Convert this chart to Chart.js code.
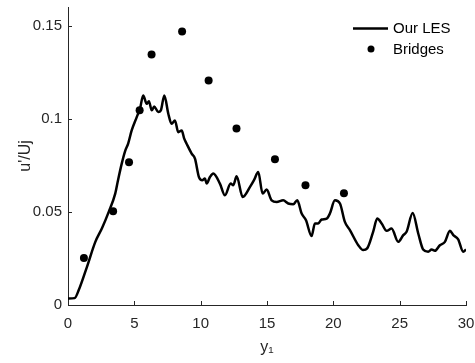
<!DOCTYPE html>
<html>
<head>
<meta charset="utf-8">
<script src="https://cdn.jsdelivr.net/npm/chart.js@4.4.0/dist/chart.umd.min.js"></script>
<style>
html, body { margin: 0; padding: 0; background: #fff; }
</style>
</head>
<body>
<canvas id="chart" width="475" height="363"></canvas>
<script>
// LES profile
const lesX = [0, 0.5, 0.81, 1.43, 2.06, 2.56, 3.07, 3.56, 3.77, 4.05, 4.3, 4.54, 4.8, 5.18, 5.43, 5.67,
  5.93, 6.1, 6.31, 6.5, 6.8, 7.0, 7.26, 7.56, 7.81, 8.06, 8.31, 8.57, 8.76, 8.94, 9.32, 9.57, 9.87,
  10.12, 10.32, 10.45, 10.7, 10.95, 11.45, 11.83, 12.26, 12.46, 12.71, 13.17, 13.72, 14.02, 14.34,
  14.67, 14.97, 15.35, 15.73, 16.22, 16.6, 16.98, 17.28, 17.61, 17.94, 18.36, 18.61, 18.86, 19.12,
  19.5, 19.74, 20.12, 20.5, 20.87, 21.25, 21.88, 22.25, 22.55, 23.0, 23.31, 23.64, 24.02, 24.39,
  24.89, 25.27, 25.52, 25.98, 26.4, 26.77, 27.15, 27.41, 27.66, 28.03, 28.41, 28.79, 29.04, 29.41,
  29.79, 30.0];
const lesY = [0.0035, 0.0037, 0.008, 0.0205, 0.0339, 0.0412, 0.05, 0.0598, 0.067, 0.0759, 0.0825,
  0.0868, 0.0937, 0.1009, 0.1055, 0.1125, 0.108, 0.1094, 0.1045, 0.1066, 0.1036, 0.1045, 0.1125,
  0.1027, 0.0973, 0.0991, 0.0928, 0.0937, 0.0893, 0.0866, 0.0813, 0.0786, 0.0687, 0.067, 0.0679,
  0.0652, 0.0687, 0.0706, 0.0652, 0.0589, 0.0652, 0.0643, 0.0691, 0.058, 0.0634, 0.067, 0.0714,
  0.0598, 0.062, 0.0562, 0.0553, 0.0562, 0.0545, 0.0541, 0.0562, 0.0491, 0.0455, 0.037, 0.0438,
  0.0438, 0.0459, 0.0464, 0.0491, 0.0562, 0.0545, 0.0446, 0.0402, 0.0321, 0.0295, 0.0304, 0.0393,
  0.0464, 0.0438, 0.0398, 0.0411, 0.0339, 0.0375, 0.0393, 0.0494, 0.0384, 0.0298, 0.0286, 0.0298,
  0.0291, 0.0321, 0.0339, 0.0398, 0.0375, 0.0352, 0.0286, 0.0298];

// Bridges measurements
const bridgesX = [1.2, 3.4, 4.6, 5.4, 6.3, 8.6, 10.6, 12.7, 15.6, 17.9, 20.8];
const bridgesY = [0.0252, 0.0504, 0.0766, 0.1045, 0.1345, 0.1468, 0.1205, 0.0948, 0.0782, 0.0643, 0.06];

const xTicks = [0, 5, 10, 15, 20, 25, 30];
const yTicks = [0, 0.05, 0.1, 0.15];

const axisColor = '#262626';
const fontFamily = '"Liberation Sans", Arial, sans-serif';

// MATLAB style ticks pointing into the plot
const innerTicks = {
    id: 'innerTicks',
    afterDatasetsDraw(chart) {
        const ctx = chart.ctx;
        const xs = chart.scales.x, ys = chart.scales.y;
        const area = chart.chartArea;
        ctx.save();
        ctx.strokeStyle = axisColor;
        ctx.lineWidth = 1;
        ctx.beginPath();
        xTicks.forEach(v => {
            const px = Math.round(xs.getPixelForValue(v)) + 0.5;
            ctx.moveTo(px, area.bottom);
            ctx.lineTo(px, area.bottom - 4);
        });
        yTicks.forEach(v => {
            const py = Math.round(ys.getPixelForValue(v)) + 0.5;
            ctx.moveTo(area.left, py);
            ctx.lineTo(area.left + 4, py);
        });
        ctx.stroke();
        ctx.restore();
    }
};

// legend box in the top right corner of the axes
const cornerLegend = {
    id: 'cornerLegend',
    afterDraw(chart) {
        const ctx = chart.ctx;
        const ds = chart.data.datasets;
        ctx.save();
        ctx.font = '15px ' + fontFamily;
        ctx.fillStyle = '#000';
        ctx.textBaseline = 'middle';
        ctx.textAlign = 'left';
        // line entry
        ctx.strokeStyle = '#000';
        ctx.lineWidth = 2.5;
        ctx.beginPath();
        ctx.moveTo(353, 28.5);
        ctx.lineTo(388, 28.5);
        ctx.stroke();
        ctx.fillText(ds[0].label, 393, 29);
        // marker entry
        ctx.beginPath();
        ctx.arc(371, 49, 3.5, 0, Math.PI * 2);
        ctx.fill();
        ctx.fillText(ds[1].label, 393, 50);
        ctx.restore();
    }
};

const ctx = document.getElementById('chart').getContext('2d');
const chart = new Chart(ctx, {
    type: 'scatter',
    data: {
        datasets: [{
            label: 'Our LES',
            data: lesX.map((x, i) => ({ x: x, y: lesY[i] })),
            showLine: true,
            borderColor: '#000',
            borderWidth: 2.5,
            pointRadius: 0,
            cubicInterpolationMode: 'monotone'
        }, {
            label: 'Bridges',
            data: bridgesX.map((x, i) => ({ x: x, y: bridgesY[i] })),
            showLine: false,
            backgroundColor: '#000',
            borderColor: '#000',
            pointRadius: 4,
            pointBorderWidth: 0
        }]
    },
    options: {
        responsive: false,
        animation: false,
        devicePixelRatio: 1,
        layout: { padding: { top: 7, right: 9, left: 0, bottom: 0 } },
        plugins: {
            legend: { display: false },
            tooltip: { enabled: false }
        },
        scales: {
            x: {
                type: 'linear',
                min: 0,
                max: 30,
                afterBuildTicks: s => { s.ticks = xTicks.map(v => ({ value: v })); },
                afterFit: s => { s.height = 58; s.paddingRight = 0; s.paddingLeft = 0; },
                grid: { display: false, drawTicks: false },
                border: { display: true, color: axisColor, width: 1 },
                ticks: {
                    color: axisColor,
                    padding: 10,
                    maxRotation: 0,
                    font: { family: fontFamily, size: 15 }
                },
                title: {
                    display: true,
                    text: 'y\u2081',
                    color: axisColor,
                    padding: { top: 0, bottom: 6 },
                    font: { family: fontFamily, size: 16 }
                }
            },
            y: {
                type: 'linear',
                min: 0,
                max: 0.16,
                afterBuildTicks: s => { s.ticks = yTicks.map(v => ({ value: v })); },
                afterFit: s => { s.width = 68; s.paddingTop = 0; s.paddingBottom = 0; },
                grid: { display: false, drawTicks: false },
                border: { display: true, color: axisColor, width: 1 },
                ticks: {
                    color: axisColor,
                    padding: 6,
                    callback: v => String(v),
                    font: { family: fontFamily, size: 15 }
                },
                title: {
                    display: true,
                    text: "u'/Uj",
                    color: axisColor,
                    padding: { top: 16, bottom: 0 },
                    font: { family: fontFamily, size: 16 }
                }
            }
        }
    },
    plugins: [innerTicks, cornerLegend]
});
</script>
</body>
</html>
